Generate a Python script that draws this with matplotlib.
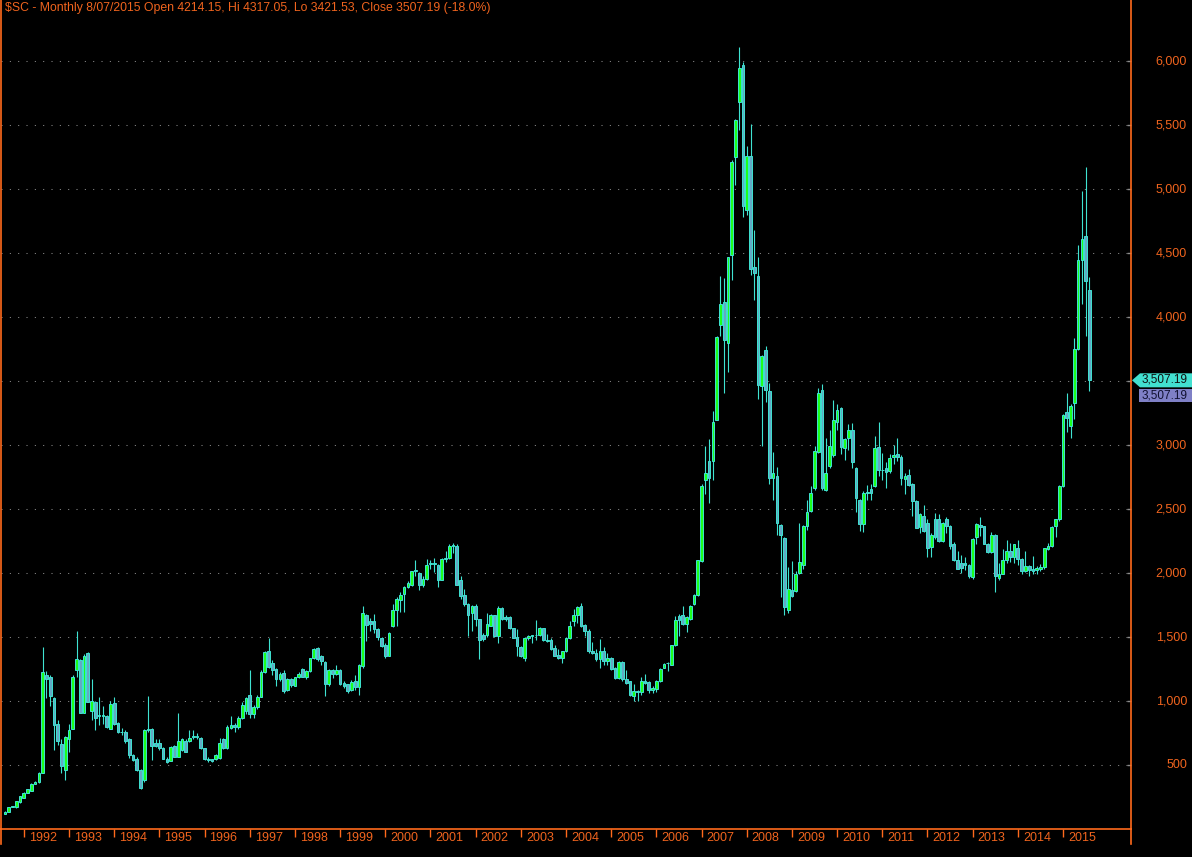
import matplotlib
matplotlib.use('Agg')
import matplotlib.pyplot as plt
import numpy as np
from matplotlib.patches import Polygon, Rectangle
from matplotlib.transforms import offset_copy

plt.rcParams['font.family'] = ['Liberation Sans', 'DejaVu Sans']

# Monthly OHLC, Aug 1991 .. Aug 2015
opens = [
    120, 135, 175, 170, 210, 245, 285, 300, 355, 365, 440, 1200,
    1190, 1025, 820, 665, 460, 705, 785, 1240, 1320, 910, 1375, 925,
    995, 890, 880, 885, 785, 985, 830, 760, 760, 700, 580, 550,
    465, 380, 770, 785, 675, 675, 630, 550, 535, 645, 565, 615,
    690, 685, 720, 725, 715, 630, 545, 545, 545, 555, 705, 630,
    790, 810, 800, 870, 925, 1050, 900, 955, 1035, 1230, 1390, 1300,
    1250, 1175, 1220, 1090, 1175, 1120, 1190, 1250, 1185, 1235, 1335, 1415,
    1355, 1305, 1130, 1240, 1210, 1245, 1140, 1130, 1085, 1155, 1110, 1275,
    1675, 1625, 1625, 1565, 1495, 1435, 1355, 1585, 1710, 1790, 1840, 1890,
    1910, 2025, 2000, 1905, 1955, 2075, 2080, 2065, 1950, 2110, 2115, 2215,
    2215, 1950, 1830, 1760, 1685, 1745, 1640, 1520, 1515, 1590, 1670, 1505,
    1730, 1655, 1660, 1570, 1500, 1425, 1335, 1490, 1505, 1515, 1515, 1570,
    1480, 1475, 1415, 1360, 1335, 1390, 1490, 1625, 1670, 1740, 1595, 1550,
    1395, 1375, 1325, 1395, 1310, 1340, 1260, 1180, 1305, 1170, 1155, 1040,
    1075, 1070, 1160, 1150, 1090, 1095, 1155, 1260, 1295, 1285, 1435, 1668,
    1675, 1605, 1645, 1755, 1830, 2095, 2725, 2880, 2875, 3200, 3940, 4120,
    3800, 4490, 5250, 5680, 5975, 4840, 5260, 4390, 4325, 3465, 3745, 3425,
    2745, 2760, 2380, 2275, 1715, 1870, 1860, 2000, 2060, 2370, 2485, 2665,
    2945, 3435, 2650, 2835, 2925, 3185, 3290, 2980, 3055, 3115, 2820, 2575,
    2385, 2630, 2655, 2680, 2985, 2810, 2820, 2795, 2910, 2930, 2910, 2735,
    2765, 2700, 2565, 2360, 2450, 2390, 2205, 2425, 2420, 2250, 2420, 2370,
    2230, 2100, 2080, 2080, 2065, 1970, 2280, 2380, 2365, 2230, 2165, 2300,
    1960, 1995, 2100, 2170, 2130, 2195, 2110, 2015, 2055, 2030, 2025, 2030,
    2045, 2190, 2210, 2365, 2420, 2685, 3260, 3150, 3330, 3750, 4450, 4635,
    4214.15,
]
highs = [
    140, 175, 178, 218, 258, 288, 312, 358, 372, 442, 1420, 1235,
    1200, 1030, 850, 700, 730, 820, 1200, 1550, 1330, 1370, 1380, 1170,
    1000, 1030, 960, 890, 1000, 1035, 840, 790, 770, 710, 590, 560,
    470, 780, 1040, 790, 700, 700, 640, 560, 650, 660, 910, 715,
    700, 770, 770, 750, 720, 635, 560, 550, 590, 715, 710, 810,
    880, 830, 880, 990, 1030, 1245, 970, 1050, 1240, 1390, 1495, 1320,
    1260, 1230, 1240, 1180, 1180, 1190, 1230, 1260, 1245, 1340, 1415, 1420,
    1360, 1310, 1250, 1250, 1285, 1250, 1160, 1135, 1165, 1200, 1290, 1745,
    1680, 1650, 1684, 1570, 1500, 1450, 1540, 1760, 1810, 1850, 1900, 1935,
    2020, 2105, 2010, 1975, 2110, 2100, 2120, 2070, 2120, 2170, 2225, 2235,
    2225, 1980, 1875, 1765, 1750, 1760, 1645, 1535, 1685, 1680, 1675, 1740,
    1735, 1670, 1665, 1575, 1560, 1430, 1500, 1515, 1520, 1637, 1580, 1575,
    1525, 1490, 1440, 1405, 1395, 1500, 1625, 1720, 1740, 1770, 1600, 1560,
    1460, 1405, 1485, 1420, 1375, 1345, 1265, 1315, 1315, 1240, 1160, 1135,
    1085, 1190, 1215, 1155, 1115, 1165, 1255, 1295, 1305, 1440, 1668, 1684,
    1745, 1665, 1750, 1835, 2105, 2695, 2990, 3045, 3265, 3850, 4325, 4305,
    4475, 5230, 5550, 6115, 5995, 5335, 5510, 4685, 4470, 3705, 3775, 3485,
    2945, 2830, 2385, 2280, 2050, 2095, 2020, 2390, 2380, 2575, 2685, 2990,
    3445, 3475, 3055, 3115, 3355, 3320, 3300, 3060, 3165, 3175, 2830, 2580,
    2640, 2690, 2700, 3070, 3185, 2940, 2865, 2935, 3005, 3055, 2920, 2780,
    2815, 2705, 2575, 2470, 2530, 2420, 2315, 2470, 2460, 2400, 2440, 2380,
    2240, 2170, 2140, 2130, 2070, 2275, 2395, 2435, 2370, 2235, 2325, 2305,
    2080, 2190, 2260, 2235, 2230, 2260, 2115, 2170, 2065, 2135, 2055, 2070,
    2200, 2235, 2365, 2425, 2690, 3245, 3405, 3320, 3835, 4565, 4990, 5175,
    4317.05,
]
lows = [
    115, 130, 172, 168, 205, 240, 280, 298, 350, 360, 435, 1025,
    960, 620, 660, 440, 385, 600, 780, 1190, 905, 905, 990, 855,
    770, 815, 820, 790, 780, 810, 750, 735, 670, 555, 530, 450,
    315, 370, 760, 540, 640, 615, 545, 515, 530, 560, 560, 610,
    600, 680, 700, 700, 625, 540, 520, 525, 540, 550, 625, 625,
    780, 760, 780, 860, 900, 870, 870, 940, 1030, 1220, 1260, 1200,
    1120, 1160, 1060, 1080, 1110, 1115, 1180, 1185, 1175, 1230, 1330, 1315,
    1280, 1040, 1120, 1180, 1200, 1125, 1105, 1065, 1080, 1090, 1045, 1260,
    1470, 1545, 1530, 1480, 1420, 1340, 1350, 1580, 1590, 1695, 1695, 1880,
    1900, 1975, 1870, 1895, 1950, 2030, 2005, 1895, 1945, 2085, 2110, 2160,
    1905, 1795, 1745, 1510, 1545, 1590, 1330, 1470, 1500, 1585, 1500, 1455,
    1630, 1625, 1560, 1490, 1350, 1345, 1310, 1475, 1450, 1480, 1505, 1470,
    1460, 1400, 1350, 1325, 1300, 1385, 1485, 1585, 1610, 1580, 1510, 1375,
    1365, 1310, 1260, 1285, 1285, 1245, 1175, 1175, 1160, 1130, 1040, 1000,
    1000, 1045, 1130, 1065, 1065, 1070, 1150, 1255, 1235, 1280, 1430, 1512,
    1595, 1540, 1630, 1750, 1825, 2085, 2615, 2545, 2725, 3195, 3850, 3410,
    3570, 4295, 5035, 5465, 4785, 4800, 4330, 4135, 3360, 2995, 3335, 2700,
    2575, 2300, 1815, 1675, 1685, 1810, 1850, 1990, 2035, 2335, 2475, 2650,
    2940, 2650, 2640, 2820, 2910, 3115, 2930, 2885, 2960, 2825, 2480, 2330,
    2320, 2570, 2575, 2670, 2760, 2730, 2665, 2780, 2850, 2875, 2690, 2615,
    2680, 2445, 2350, 2315, 2320, 2130, 2130, 2270, 2240, 2245, 2315, 2185,
    2095, 2030, 2000, 2025, 1965, 1955, 2230, 2290, 2225, 2160, 2160, 1850,
    1945, 1990, 2080, 2090, 2080, 2065, 1990, 2010, 1975, 1995, 1990, 2015,
    2035, 2180, 2205, 2285, 2405, 2675, 3100, 3055, 3205, 3745, 4105, 3850,
    3421.53,
]
closes = [
    135, 170, 175, 215, 255, 285, 310, 355, 370, 440, 1230, 1175,
    1040, 810, 690, 495, 720, 775, 1190, 1330, 910, 1355, 995, 1000,
    870, 880, 890, 800, 980, 820, 760, 755, 690, 580, 540, 460,
    320, 775, 785, 645, 650, 635, 550, 525, 640, 565, 690, 705,
    605, 715, 725, 720, 630, 545, 540, 535, 575, 675, 630, 800,
    810, 795, 870, 970, 1025, 900, 955, 1035, 1230, 1385, 1270, 1240,
    1175, 1210, 1080, 1175, 1125, 1185, 1210, 1190, 1235, 1335, 1410, 1325,
    1310, 1135, 1240, 1210, 1245, 1135, 1120, 1080, 1150, 1110, 1280, 1685,
    1595, 1600, 1560, 1500, 1430, 1355, 1535, 1715, 1800, 1830, 1890, 1925,
    2015, 2020, 1905, 1955, 2065, 2080, 2075, 1950, 2110, 2120, 2215, 2220,
    1910, 1825, 1755, 1675, 1745, 1640, 1480, 1485, 1600, 1670, 1505, 1730,
    1640, 1640, 1570, 1495, 1430, 1350, 1495, 1510, 1515, 1520, 1570, 1475,
    1470, 1410, 1355, 1340, 1390, 1495, 1590, 1670, 1735, 1585, 1545, 1390,
    1375, 1330, 1395, 1310, 1340, 1250, 1180, 1305, 1170, 1145, 1050, 1075,
    1070, 1155, 1145, 1085, 1100, 1160, 1250, 1290, 1300, 1435, 1635, 1635,
    1600, 1655, 1745, 1830, 2100, 2680, 2785, 2740, 3185, 3845, 4105, 3820,
    4470, 5215, 5545, 5950, 4870, 5260, 4380, 4345, 3470, 3700, 3430, 2740,
    2780, 2395, 2300, 1735, 1875, 1825, 1995, 2085, 2370, 2475, 2625, 2955,
    3410, 2665, 2780, 2995, 3200, 3275, 2985, 3050, 3115, 2865, 2585, 2385,
    2630, 2635, 2630, 2980, 2810, 2805, 2790, 2900, 2925, 2905, 2745, 2760,
    2690, 2560, 2355, 2465, 2330, 2200, 2295, 2280, 2255, 2390, 2365, 2215,
    2100, 2035, 2040, 2060, 1975, 2270, 2385, 2360, 2230, 2165, 2300, 1975,
    1990, 2100, 2175, 2130, 2225, 2110, 2020, 2055, 2025, 2020, 2040, 2050,
    2195, 2215, 2360, 2420, 2685, 3240, 3215, 3310, 3750, 4450, 4610, 4280,
    3507.19,
]
years = list(range(1992, 2016))
first_jan = 5
price_levels = list(range(500, 6001, 500))
title = "\\$SC - Monthly 8/07/2015 Open 4214.15, Hi 4317.05, Lo 3421.53, Close 3507.19 (-18.0%)"

ORANGE = '#ff6a1c'
TEXT = '#f0641e'
EDGE = '#3fe3d2'
UP = '#1cff1c'
DOWN = '#62a9c4'

W, H = 1192, 857
fig = plt.figure(figsize=(W / 100, H / 100), dpi=100, facecolor='black')
ax = fig.add_axes([1 / W, 28 / H, 1130 / W, 829 / H])
ax.set_facecolor('black')

o = np.array(opens, dtype=float)
h = np.array(highs, dtype=float)
l = np.array(lows, dtype=float)
c = np.array(closes, dtype=float)
idx = np.arange(len(c))
up = c >= o

ax.set_xlim(-1.06, 299.05)
ax.set_ylim(0, 6480)

# dotted grid
for v in price_levels:
    ax.axhline(v, color='#8c8c8c', lw=0.75, linestyle=(0, (1, 7)), zorder=1)

# candles
ax.vlines(idx, l, h, color=EDGE, lw=0.8, zorder=2)
body = np.maximum(np.abs(c - o), 4)
ax.bar(idx, body, bottom=np.minimum(o, c), width=0.72,
       color=np.where(up, UP, DOWN), edgecolor=EDGE, linewidth=0.7, zorder=3)

# frame
ax.spines['top'].set_visible(False)
for s in ['left', 'right', 'bottom']:
    ax.spines[s].set_color(ORANGE)
    ax.spines[s].set_linewidth(1.2)
for xa in [0, 1]:
    ax.plot([xa, xa], [0, -15 / 829], transform=ax.transAxes, clip_on=False,
            color=ORANGE, lw=1.2)

# x axis: year ticks
tick_pos = [first_jan + 12 * k for k in range(len(years))]
ax.set_xticks(tick_pos)
ax.set_xticklabels([])
ax.tick_params(axis='x', direction='out', length=5.5, width=1, color=ORANGE)
ytrans = offset_copy(ax.get_xaxis_transform(), fig=fig, x=5, y=-9, units='dots')
for p, yr in zip(tick_pos, years):
    ax.text(p, 0, str(yr), transform=ytrans, ha='left', va='center',
            color=TEXT, fontsize=9)

# y axis on the right (the level under the price tag stays hidden)
ax.yaxis.tick_right()
ax.set_yticks(price_levels)
ax.set_yticklabels([])
ax.tick_params(axis='y', direction='in', length=3, width=1, color='#8c8c8c')
rtrans = offset_copy(ax.get_yaxis_transform(), fig=fig, x=56, y=0, units='dots')
for v in price_levels:
    if abs(v - c[-1]) < 150:
        continue
    ax.text(1.0, v, f"{v:,}", transform=rtrans, ha='right', va='center',
            color=TEXT, fontsize=9)

# title
fig.text(5 / W, 1 - 8 / H, title, ha='left', va='center', color=TEXT, fontsize=8.8)

# last price tags
yc = ax.transData.transform((0, c[-1]))[1]
tag = [(1132, yc), (1140, yc + 7), (1192, yc + 7), (1192, yc - 7), (1140, yc - 7)]
fig.add_artist(Polygon([(px / W, py / H) for px, py in tag], closed=True,
                       transform=fig.transFigure, facecolor='#42e0d0', edgecolor='none'))
fig.add_artist(Rectangle((1139 / W, (yc - 22) / H), 53 / W, 13.5 / H,
                         transform=fig.transFigure, facecolor='#7f80c6', edgecolor='none'))
fig.text(1188 / W, (yc + 0.5) / H, f"{c[-1]:,.2f}", ha='right', va='center', color='#101010', fontsize=8.5)
fig.text(1188 / W, (yc - 15.5) / H, f"{c[-1]:,.2f}", ha='right', va='center', color='#101030', fontsize=8.5)

fig.savefig('out.png', dpi=100, facecolor='black')
